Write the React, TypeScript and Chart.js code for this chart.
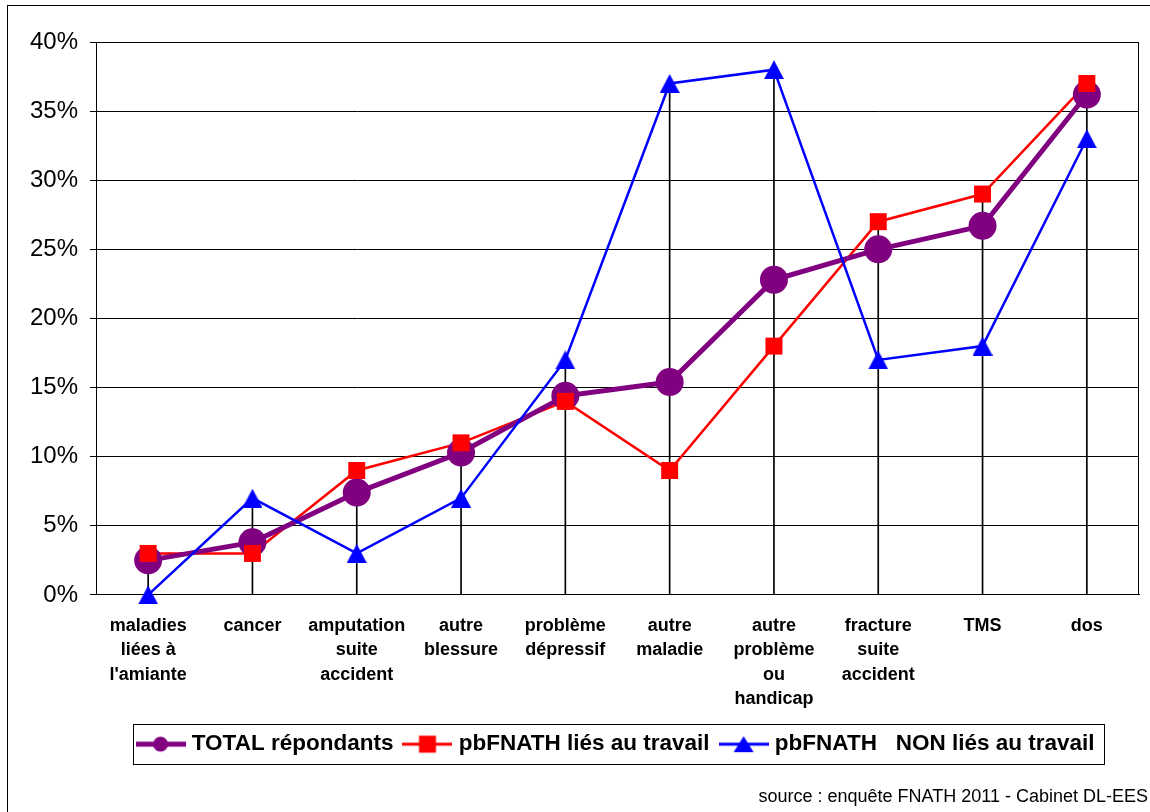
import React, { useEffect, useRef } from 'react';
import { Chart, registerables } from 'chart.js';

Chart.register(...registerables);

const categories: (string | string[])[] = [
  ['maladies', 'liées à', "l'amiante"],
  'cancer',
  ['amputation', 'suite', 'accident'],
  ['autre', 'blessure'],
  ['problème', 'dépressif'],
  ['autre', 'maladie'],
  ['autre', 'problème', 'ou', 'handicap'],
  ['fracture', 'suite', 'accident'],
  'TMS',
  'dos',
];

const totalRepondants = [2.5, 3.8, 7.4, 10.3, 14.4, 15.4, 22.8, 25.0, 26.7, 36.2];
const liesAuTravail = [3, 3, 9, 11, 14, 9, 18, 27, 29, 37];
const nonLiesAuTravail = [0, 7, 3, 7, 17, 37, 38, 17, 18, 33];

const seriesNames = ['TOTAL répondants', 'pbFNATH liés au travail', 'pbFNATH   NON liés au travail'];
const sourceText = 'source : enquête FNATH 2011 - Cabinet DL-EES';

const yMin = 0;
const yMax = 40;
const yStep = 5;

const PURPLE = '#800080';
const RED = '#FF0000';
const BLUE = '#0000FF';
const FONT = '"Liberation Sans", Arial, Helvetica, sans-serif';

function makeMarker(kind: string, color: string, lineWidth: number): HTMLCanvasElement {
  const c = document.createElement('canvas');
  c.width = 50;
  c.height = 22;
  const g = c.getContext('2d')!;
  g.strokeStyle = color;
  g.fillStyle = color;
  g.lineWidth = lineWidth;
  g.beginPath();
  g.moveTo(0, 11);
  g.lineTo(50, 11);
  g.stroke();
  if (kind === 'circle') {
    g.beginPath();
    g.arc(25, 11, 7.5, 0, Math.PI * 2);
    g.fill();
  } else if (kind === 'rect') {
    g.fillRect(25 - 8.5, 11 - 8.5, 17, 17);
  } else {
    g.beginPath();
    g.moveTo(25, 3);
    g.lineTo(35, 19);
    g.lineTo(15, 19);
    g.closePath();
    g.fill();
  }
  return c;
}

function makeTriangle(color: string): HTMLCanvasElement {
  const c = document.createElement('canvas');
  c.width = 20;
  c.height = 19;
  const g = c.getContext('2d')!;
  g.fillStyle = color;
  g.beginPath();
  g.moveTo(10, 0);
  g.lineTo(20, 19);
  g.lineTo(0, 19);
  g.closePath();
  g.fill();
  return c;
}

const decorPlugin = {
  id: 'decor',
  beforeDraw(chart: any) {
    const ctx = chart.ctx;
    ctx.save();
    ctx.strokeStyle = '#000';
    ctx.lineWidth = 1;
    ctx.strokeRect(7.5, 5.5, chart.width + 20, chart.height + 20);
    ctx.restore();
  },
  beforeDatasetsDraw(chart: any) {
    const { left, top, right, bottom } = chart.chartArea;
    const ctx = chart.ctx;
    ctx.save();
    ctx.strokeStyle = '#000';
    ctx.lineWidth = 1;
    const l = Math.round(left) + 0.5;
    const t = Math.round(top) + 0.5;
    const r = Math.round(right) - 0.5;
    const b = Math.round(bottom) - 0.5;
    ctx.strokeRect(l, t, r - l, b - t);
    ctx.restore();
  },
  afterDraw(chart: any) {
    const boxes = chart.legend && chart.legend.legendHitBoxes;
    if (!boxes || !boxes.length) return;
    const first = boxes[0];
    const last = boxes[boxes.length - 1];
    const l = Math.round(first.left - 8) + 0.5;
    const r = Math.round(last.left + last.width + 10) + 0.5;
    const t = Math.round(first.top - 9) + 0.5;
    const b = Math.round(first.top + first.height + 9) + 0.5;
    const ctx = chart.ctx;
    ctx.save();
    ctx.strokeStyle = '#000';
    ctx.lineWidth = 1;
    ctx.strokeRect(l, t, r - l, b - t);
    ctx.restore();
  },
};

export default function App() {
  const canvasRef = useRef<HTMLCanvasElement | null>(null);

  useEffect(() => {
    if (!canvasRef.current) return;
    Chart.defaults.font.family = FONT;
    Chart.defaults.color = '#000';

    const markers = [
      makeMarker('circle', PURPLE, 5),
      makeMarker('rect', RED, 3),
      makeMarker('triangle', BLUE, 3),
    ];
    const colors = [PURPLE, RED, BLUE];
    const triangle = makeTriangle(BLUE);

    const dropLines = categories.map((_, i) => [
      0,
      Math.max(totalRepondants[i], liesAuTravail[i], nonLiesAuTravail[i]),
    ]);

    const lineOnly = (label: string, data: number[], color: string, width: number, order: number) => ({
      type: 'line',
      label,
      data,
      borderColor: color,
      backgroundColor: color,
      borderWidth: width,
      pointRadius: 0,
      tension: 0,
      fill: false,
      clip: false,
      order,
    });
    const pointsOnly = (label: string, data: number[], color: string, style: any, radius: number, order: number) => ({
      type: 'line',
      label,
      data,
      showLine: false,
      borderColor: color,
      backgroundColor: color,
      pointStyle: style,
      pointRadius: radius,
      pointBackgroundColor: color,
      pointBorderColor: color,
      pointBorderWidth: 0,
      fill: false,
      clip: false,
      order,
    });

    const chart = new Chart(canvasRef.current, {
      type: 'bar',
      data: {
        labels: categories as any,
        datasets: [
          {
            type: 'bar',
            label: 'drop',
            data: dropLines as any,
            backgroundColor: '#000',
            borderWidth: 0,
            barThickness: 1,
            order: 10,
          } as any,
          lineOnly(seriesNames[1], liesAuTravail, RED, 2.5, 9),
          lineOnly(seriesNames[0], totalRepondants, PURPLE, 5, 8),
          lineOnly(seriesNames[2], nonLiesAuTravail, BLUE, 2.5, 7),
          pointsOnly(seriesNames[0], totalRepondants, PURPLE, 'circle', 14, 6),
          pointsOnly(seriesNames[1], liesAuTravail, RED, 'rect', 12, 5),
          pointsOnly(seriesNames[2], nonLiesAuTravail, BLUE, triangle, 11, 4),
        ] as any,
      },
      options: {
        responsive: false,
        animation: false,
        devicePixelRatio: 1,
        events: [],
        layout: { autoPadding: false, padding: { top: 42, right: 2, bottom: 0, left: 0 } },
        plugins: {
          legend: {
            display: true,
            position: 'bottom',
            fullSize: false,
            labels: {
              usePointStyle: true,
              pointStyleWidth: 40,
              padding: 14,
              color: '#000',
              font: { size: 22.5, weight: 'bold', family: FONT },
              generateLabels: () =>
                seriesNames.map((name, i) => ({
                  text: name,
                  pointStyle: markers[i] as any,
                  fillStyle: colors[i],
                  strokeStyle: colors[i],
                  lineWidth: 0,
                  hidden: false,
                  datasetIndex: i + 1,
                  fontColor: '#000',
                })),
            },
          },
          title: {
            display: true,
            text: sourceText,
            position: 'bottom',
            align: 'end',
            color: '#000',
            font: { size: 18, weight: 'normal', family: FONT, lineHeight: 1.2 },
            padding: { top: 21, bottom: 4 },
          },
          tooltip: { enabled: false },
        },
        scales: {
          x: {
            type: 'category',
            offset: true,
            grid: { display: false, drawTicks: false },
            border: { display: true, color: '#000', width: 1 },
            ticks: {
              autoSkip: false,
              maxRotation: 0,
              minRotation: 0,
              padding: 18.5,
              color: '#000',
              font: { size: 18, weight: 'bold', family: FONT, lineHeight: '24.5px' as any },
            },
            afterFit: (s: any) => {
              s.height = 124;
              s.paddingLeft = 0;
              s.paddingRight = 0;
            },
          },
          y: {
            type: 'linear',
            position: 'left',
            min: yMin,
            max: yMax,
            ticks: {
              stepSize: yStep,
              padding: 12,
              color: '#000',
              font: { size: 24, family: FONT },
              callback: (v: any) => v + '%',
            },
            grid: { color: '#000', lineWidth: 1, drawTicks: true, tickLength: 6, tickColor: '#000' },
            border: { display: true, color: '#000', width: 1 },
            afterFit: (s: any) => {
              s.width = 96;
            },
          },
          y2: {
            type: 'linear',
            position: 'right',
            min: yMin,
            max: yMax,
            display: true,
            grid: { display: false, drawTicks: false },
            ticks: { display: false },
            border: { display: false },
            afterFit: (s: any) => {
              s.width = 9;
            },
          },
        },
      } as any,
      plugins: [decorPlugin],
    });

    return () => {
      chart.destroy();
    };
  }, []);

  return (
    <div
      style={{
        position: 'fixed',
        left: 0,
        top: 0,
        width: 1150,
        height: 812,
        overflow: 'hidden',
        background: '#fff',
      }}
    >
      <canvas ref={canvasRef} width={1150} height={812} style={{ display: 'block' }} />
    </div>
  );
}
